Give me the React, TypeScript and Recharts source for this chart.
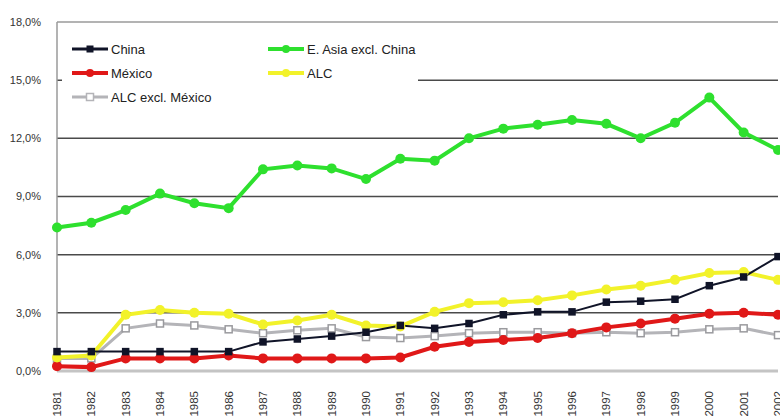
import { CartesianGrid, Line, LineChart, ReferenceLine, XAxis, YAxis } from 'recharts';

const years = [
  '1981', '1982', '1983', '1984', '1985', '1986', '1987', '1988', '1989', '1990', '1991',
  '1992', '1993', '1994', '1995', '1996', '1997', '1998', '1999', '2000', '2001', '2002'
];

const china = [1.0, 1.0, 1.0, 1.0, 1.0, 1.0, 1.5, 1.65, 1.8, 2.0, 2.35, 2.2, 2.45, 2.9, 3.05, 3.05, 3.55, 3.6, 3.7, 4.4, 4.85, 5.9];
const mexico = [0.25, 0.2, 0.65, 0.65, 0.65, 0.8, 0.65, 0.65, 0.65, 0.65, 0.7, 1.25, 1.5, 1.6, 1.7, 1.95, 2.25, 2.45, 2.7, 2.95, 3.0, 2.9];
const alcExMexico = [0.65, 0.65, 2.2, 2.45, 2.35, 2.15, 1.95, 2.1, 2.2, 1.75, 1.7, 1.8, 1.95, 2.0, 2.0, 1.95, 2.0, 1.95, 2.0, 2.15, 2.2, 1.85];
const eAsia = [7.4, 7.65, 8.3, 9.15, 8.65, 8.4, 10.4, 10.6, 10.45, 9.9, 10.95, 10.85, 12.0, 12.5, 12.7, 12.95, 12.75, 12.0, 12.8, 14.1, 12.3, 11.4];
const alc = [0.7, 0.8, 2.9, 3.15, 3.0, 2.95, 2.4, 2.6, 2.9, 2.35, 2.3, 3.05, 3.5, 3.55, 3.65, 3.9, 4.2, 4.4, 4.7, 5.05, 5.1, 4.7];

const yTicks = [0, 3, 6, 9, 12, 15, 18];

const data = years.map((year, i) => ({
  year,
  china: china[i],
  mexico: mexico[i],
  alcExMexico: alcExMexico[i],
  eAsia: eAsia[i],
  alc: alc[i]
}));

const FONT = '"Liberation Sans", Arial, sans-serif';

const GREEN = '#2ee02e';
const YELLOW = '#f2f22a';
const RED = '#e01818';
const BLACK = '#101428';
const GRAY = '#b4b4b8';

function roundDot(color: string, r: number) {
  return (props: any) => (
    <circle key={`c-${props.index}`} cx={props.cx} cy={props.cy} r={r} fill={color} stroke="none" />
  );
}

function squareDot(fill: string, stroke: string, s: number) {
  return (props: any) => (
    <rect
      key={`s-${props.index}`}
      x={props.cx - s / 2}
      y={props.cy - s / 2}
      width={s}
      height={s}
      fill={fill}
      stroke={stroke}
      strokeWidth={1.5}
    />
  );
}

// year labels run bottom-to-top, their tops just under the axis
function YearTick(props: any) {
  const { x, y, payload } = props;
  return (
    <text
      transform={`translate(${x + 4},${y + 12}) rotate(-90)`}
      textAnchor="end"
      fontSize={11.5}
      fontFamily={FONT}
      fill="#333"
    >
      {payload.value}
    </text>
  );
}

function LegendItem({ label, color, marker, width }: { label: string; color: string; marker: 'dot' | 'square' | 'hollow'; width: number }) {
  return (
    <div style={{ display: 'flex', alignItems: 'center', height: 24 }}>
      <svg width={38} height={12} style={{ marginRight: 2 }}>
        <line x1={1} y1={6} x2={37} y2={6} stroke={color} strokeWidth={width} />
        {marker === 'dot' && <circle cx={19} cy={6} r={4} fill={color} />}
        {marker === 'square' && <rect x={15.5} y={2.5} width={7} height={7} fill={color} />}
        {marker === 'hollow' && <rect x={15.5} y={2.5} width={7} height={7} fill="#fff" stroke={color} strokeWidth={1.5} />}
      </svg>
      <span>{label}</span>
    </div>
  );
}

export default function App() {
  return (
    <div style={{ position: 'absolute', left: 0, top: 0, width: 780, height: 416, background: '#fff', overflow: 'hidden' }}>
      <LineChart width={780} height={430} data={data} margin={{ top: 22, right: 2, bottom: 0, left: 0 }}>
        <CartesianGrid horizontal vertical={false} horizontalValues={[3, 6, 9, 12, 15]} stroke="#4a4a4a" strokeWidth={1.5} />
        <ReferenceLine y={18} stroke="#9a9a9a" strokeWidth={1.5} />
        <XAxis
          dataKey="year"
          tickLine={false}
          axisLine={{ stroke: '#c4c4c4', strokeWidth: 3 }}
          tick={<YearTick />}
          interval={0}
          height={59}
        />
        <YAxis
          type="number"
          domain={[0, 18]}
          ticks={yTicks}
          width={57}
          tickLine={false}
          axisLine={{ stroke: '#9a9a9a', strokeWidth: 1.5 }}
          tickMargin={10}
          tick={{ fill: '#333', fontSize: 11, fontFamily: FONT }}
          tickFormatter={(v: number) => `${v.toFixed(1).replace('.', ',')}%`}
        />
        <Line dataKey="alcExMexico" stroke={GRAY} strokeWidth={3} dot={squareDot('#fff', '#9a9a9e', 7)} isAnimationActive={false} />
        <Line dataKey="mexico" stroke={RED} strokeWidth={4} dot={roundDot(RED, 5)} isAnimationActive={false} />
        <Line dataKey="alc" stroke={YELLOW} strokeWidth={4} dot={roundDot(YELLOW, 5)} isAnimationActive={false} />
        <Line dataKey="china" stroke={BLACK} strokeWidth={2} dot={squareDot(BLACK, BLACK, 6)} isAnimationActive={false} />
        <Line dataKey="eAsia" stroke={GREEN} strokeWidth={4} dot={roundDot(GREEN, 5)} isAnimationActive={false} />
      </LineChart>
      <div
        style={{
          position: 'absolute',
          left: 62,
          top: 37,
          width: 356,
          height: 74,
          background: '#fff',
          fontFamily: FONT,
          fontSize: 13,
          color: '#222',
          display: 'flex'
        }}
      >
        <div style={{ paddingLeft: 9, width: 196 }}>
          <LegendItem label="China" color={BLACK} marker="square" width={3} />
          <LegendItem label="México" color={RED} marker="dot" width={4} />
          <LegendItem label="ALC excl. México" color={GRAY} marker="hollow" width={3} />
        </div>
        <div>
          <LegendItem label="E. Asia excl. China" color={GREEN} marker="dot" width={4} />
          <LegendItem label="ALC" color={YELLOW} marker="dot" width={4} />
        </div>
      </div>
    </div>
  );
}
